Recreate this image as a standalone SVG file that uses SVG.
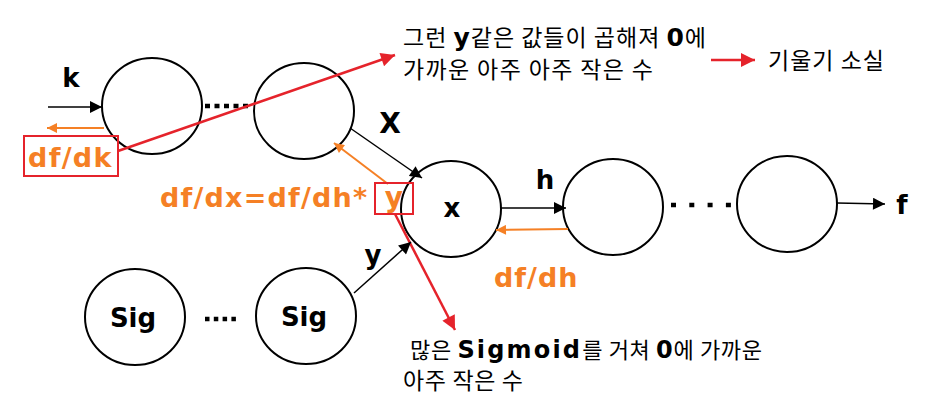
<svg xmlns="http://www.w3.org/2000/svg" width="945" height="416" viewBox="0 0 945 416">
<style>
.n{fill:#fff;stroke:#000;stroke-width:2}
.t{font-family:"Noto Sans CJK KR","Noto Sans",sans-serif;fill:#000}
.b{font-family:"DejaVu Sans","Noto Sans CJK KR",sans-serif;font-weight:bold;fill:#000}
.o{fill:#f58025;font-weight:bold;font-family:"DejaVu Sans","Noto Sans",sans-serif}
.k{stroke:#000;stroke-width:1.5;fill:none}
.or{stroke:#f58025;stroke-width:2;fill:none}
.r{stroke:#e5232b;stroke-width:2.5;fill:none}
.box{stroke:#e5232b;stroke-width:2;fill:none}
.dot{stroke:#000;stroke-width:4.5;fill:none}
</style>
<defs>
<marker id="ak" viewBox="0 0 10 10" refX="10" refY="5" markerWidth="13" markerHeight="12" markerUnits="userSpaceOnUse" orient="auto"><path d="M0,0 L10,5 L0,10 z" fill="#000"/></marker>
<marker id="ao" viewBox="0 0 10 10" refX="10" refY="5" markerWidth="12" markerHeight="10" markerUnits="userSpaceOnUse" orient="auto"><path d="M0,0 L10,5 L0,10 z" fill="#f58025"/></marker>
<marker id="ar" viewBox="0 0 10 10" refX="10" refY="5" markerWidth="20" markerHeight="14" markerUnits="userSpaceOnUse" orient="auto"><path d="M0,0 L10,5 L0,10 z" fill="#e5232b"/></marker>
</defs>
<g id="n1"><ellipse class="n" cx="152" cy="106" rx="50" ry="48"/></g>
<g id="n2"><ellipse class="n" cx="304" cy="111" rx="50" ry="48"/></g>
<g id="nx"><ellipse class="n" cx="451" cy="209" rx="50" ry="48"/><text class="b" x="452" y="217" font-size="26" text-anchor="middle">x</text></g>
<g id="n4"><ellipse class="n" cx="613" cy="207" rx="50" ry="48"/></g>
<g id="n5"><ellipse class="n" cx="787" cy="204" rx="50" ry="48"/></g>
<g id="sig1"><ellipse class="n" cx="135" cy="317" rx="50" ry="48"/><text class="b" x="133" y="327" font-size="26" text-anchor="middle">Sig</text></g>
<g id="sig2"><ellipse class="n" cx="306" cy="316" rx="50" ry="48"/><text class="b" x="304" y="326" font-size="26" text-anchor="middle">Sig</text></g>
<g id="connectors">
<line class="k" x1="48" y1="107" x2="102" y2="107" marker-end="url(#ak)"/>
<line class="dot" x1="205" y1="106" x2="248" y2="106" stroke-dasharray="5 4.5"/>
<line class="or" x1="104" y1="128" x2="47" y2="128" marker-end="url(#ao)"/>
<line class="r" x1="118" y1="151" x2="395" y2="55" marker-end="url(#ar)"/>
<line class="k" x1="350" y1="128" x2="422" y2="178" marker-end="url(#ak)"/>
<line class="or" x1="388" y1="184" x2="334" y2="143" marker-end="url(#ao)"/>
<line class="r" x1="395" y1="214" x2="455" y2="330" marker-end="url(#ar)"/>
<line class="k" x1="501" y1="208" x2="566" y2="208" marker-end="url(#ak)"/>
<line class="or" x1="568" y1="229" x2="496" y2="230" marker-end="url(#ao)"/>
<line class="dot" x1="671" y1="205" x2="731" y2="205" stroke-dasharray="5 13.3"/>
<line class="k" x1="837" y1="203" x2="885" y2="204" marker-end="url(#ak)"/>
<line class="k" x1="354" y1="293" x2="411" y2="242" marker-end="url(#ak)"/>
<line class="dot" x1="205" y1="319" x2="238" y2="319" stroke-dasharray="4.5 4.3"/>
<line class="r" x1="711" y1="60" x2="755" y2="60" stroke-width="2" marker-end="url(#ar)"/>
</g>
<g id="labels">
<text class="b" x="71" y="87" font-size="26" text-anchor="middle">k</text>
<text class="b" x="390" y="133" font-size="28" text-anchor="middle">X</text>
<text class="b" x="545" y="189" font-size="26" text-anchor="middle">h</text>
<text class="b" x="902" y="214" font-size="26" text-anchor="middle">f</text>
<text class="b" x="373" y="264" font-size="26" text-anchor="middle">y</text>
<rect class="box" x="24" y="136" width="94" height="40"/>
<text class="o" x="28" y="167" font-size="27" letter-spacing="1.3">df/dk</text>
<text class="o" x="160" y="207" font-size="27" letter-spacing="1.2">df/dx=df/dh*</text>
<rect class="box" x="375" y="183" width="38" height="31"/>
<text class="o" x="394" y="207" font-size="28" text-anchor="middle">y</text>
<text class="o" x="494" y="287" font-size="27" letter-spacing="1">df/dh</text>
<text class="t" x="403" y="46" font-size="23" textLength="303" lengthAdjust="spacing">그런 <tspan class="b" font-size="25">y</tspan>같은 값들이 곱해져 <tspan class="b" font-size="25">0</tspan>에</text>
<text class="t" x="403" y="78" font-size="23" textLength="250" lengthAdjust="spacing">가까운 아주 아주 작은 수</text>
<text class="t" x="768" y="69" font-size="23" textLength="116" lengthAdjust="spacing">기울기 소실</text>
<text class="t" x="410" y="358" font-size="22" textLength="352" lengthAdjust="spacing">많은 <tspan class="b" font-size="24" letter-spacing="1.5">Sigmoid</tspan>를 거쳐 <tspan class="b" font-size="24">0</tspan>에 가까운</text>
<text class="t" x="403" y="389" font-size="23" textLength="120" lengthAdjust="spacing">아주 작은 수</text>
</g>
</svg>
